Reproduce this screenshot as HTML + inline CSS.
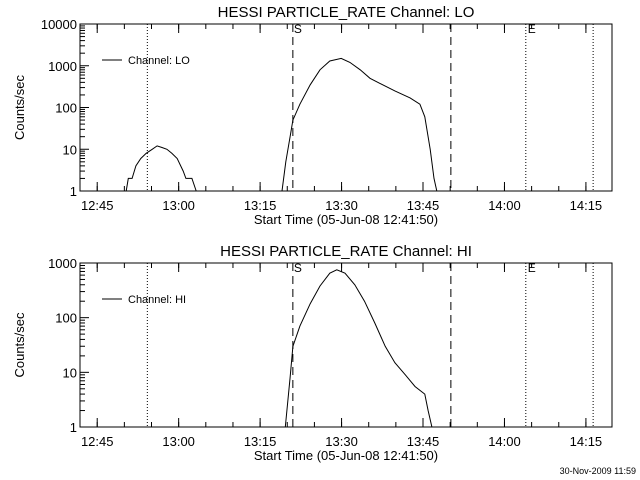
<!DOCTYPE html>
<html><head><meta charset="utf-8"><style>
body{margin:0;background:#fff}
svg{display:block;font-family:"Liberation Sans",sans-serif}
</style></head><body>
<svg id="c" width="640" height="480" viewBox="0 0 640 480"></svg>
<script>
const tickLabels=["12:45","13:00","13:15","13:30","13:45","14:00","14:15"];
const tickMinutes=[3.17,18.17,33.17,48.17,63.17,78.17,93.17];
const loTimes=[8.5,8.9,9.6,10.3,11.2,12.2,13.3,14.2,15.1,16.0,16.9,17.9,19.0,19.5,20.6,21.4,37.2,37.9,38.7,39.2,40.5,42.4,44.2,46.0,48.1,49.7,51.6,53.4,55.2,58.0,60.8,62.6,63.5,64.5,65.2,65.7];
const loValues=[1,2,2,4,6,8,10,12,11,10,8,6,3,2,2,1,1,5,20,50,120,350,800,1300,1500,1200,800,500,380,250,170,120,60,10,2,1];
const hiTimes=[37.8,38.7,39.2,40.5,42.4,44.2,46.0,47.3,48.8,50.6,52.4,54.3,56.2,58.0,59.9,61.7,63.5,64.1,64.8];
const hiValues=[1,8,30,70,180,380,650,750,650,400,200,80,30,15,9,5.5,4,2,1];
const dottedLines=[12.4,82.1,94.5];
const dashedLines=[39.2,68.3];
const NS="http://www.w3.org/2000/svg";
const svg=document.getElementById('c');
const X0=80,X1=612,PPM=5.43;
const xs=m=>X0+m*PPM;
function el(t,a,p){const e=document.createElementNS(NS,t);for(const k in a)e.setAttribute(k,a[k]);(p||svg).appendChild(e);return e;}
function txt(s,x,y,a,size,p){const e=el('text',Object.assign({x:x,y:y,'font-size':size||13,fill:'#000'},a||{}),p);e.textContent=s;return e;}
function panel(name,top,bot,decades,times,vals,title,legend){
  const g=el('g',{});
  
  
  const ys=v=>bot-Math.log10(v)/decades*(bot-top);
  const t=txt(title,346,top-7,{'text-anchor':'middle'},15,g);
  
  const box=el('rect',{x:X0,y:top,width:X1-X0,height:bot-top,fill:'none',stroke:'#000'},g);
  
  for(let d=0;d<=decades;d++){
    const y=ys(Math.pow(10,d));
    el('line',{x1:X0,x2:X0+9,y1:y,y2:y,stroke:'#000'},g);
    const l=txt(String(Math.pow(10,d)),X0-3,y+5,{'text-anchor':'end'},13,g);
    
    if(d<decades)for(let k=2;k<10;k++){const yy=ys(k*Math.pow(10,d));el('line',{x1:X0,x2:X0+5,y1:yy,y2:yy,stroke:'#000'},g);}
  }
  for(let m=3.17-5*3;m<100;m+=5){const x=xs(m);if(x<X0||x>X1)continue;
    el('line',{x1:x,x2:x,y1:bot,y2:bot-5,stroke:'#000'},g);el('line',{x1:x,x2:x,y1:top,y2:top+5,stroke:'#000'},g);}
  tickMinutes.forEach((m,i)=>{const x=xs(m);
    el('line',{x1:x,x2:x,y1:bot,y2:bot-9,stroke:'#000'},g);el('line',{x1:x,x2:x,y1:top,y2:top+9,stroke:'#000'},g);
    const l=txt(tickLabels[i],x,bot+19,{'text-anchor':'middle'},13,g);
    });
  const xt=txt('Start Time (05-Jun-08 12:41:50)',346,bot+33,{'text-anchor':'middle'},13,g);
  
  const cy=(top+bot)/2;
  const yt=txt('Counts/sec',24,cy,{'text-anchor':'middle',transform:'rotate(-90 24 '+cy+')'},13,g);
  
  dottedLines.forEach(m=>{el('line',{x1:xs(m),x2:xs(m),y1:top,y2:bot,stroke:'#000','stroke-dasharray':'1,2'},g);});
  dashedLines.forEach(m=>{el('line',{x1:xs(m),x2:xs(m),y1:top,y2:bot,stroke:'#000','stroke-dasharray':'8,5'},g);});
  txt('S',xs(39.2)+1,top+9,{},12,g);txt('E',xs(82.1)+2,top+9,{},12,g);
  const lg=el('line',{x1:102,x2:122,y1:top+36,y2:top+36,stroke:'#000'},g);
  
  const lt=txt(legend,128,top+40,{},11,g);
  
  let d='';let seg=false;
  for(let i=0;i<times.length;i++){
    if(i>0&&times[i]-times[i-1]>5)seg=false;
    d+=(seg?'L':'M')+xs(times[i]).toFixed(1)+' '+ys(vals[i]).toFixed(1);seg=true;
  }
  const p=el('path',{d:d,fill:'none',stroke:'#000','stroke-width':1},g);
  
}
panel('lo',24,191,4,loTimes,loValues,'HESSI PARTICLE_RATE Channel: LO','Channel: LO');
panel('hi',263,427,3,hiTimes,hiValues,'HESSI PARTICLE_RATE Channel: HI','Channel: HI');
const f=txt('30-Nov-2009 11:59',636,474,{'text-anchor':'end'},9);


</script>
</body></html>
